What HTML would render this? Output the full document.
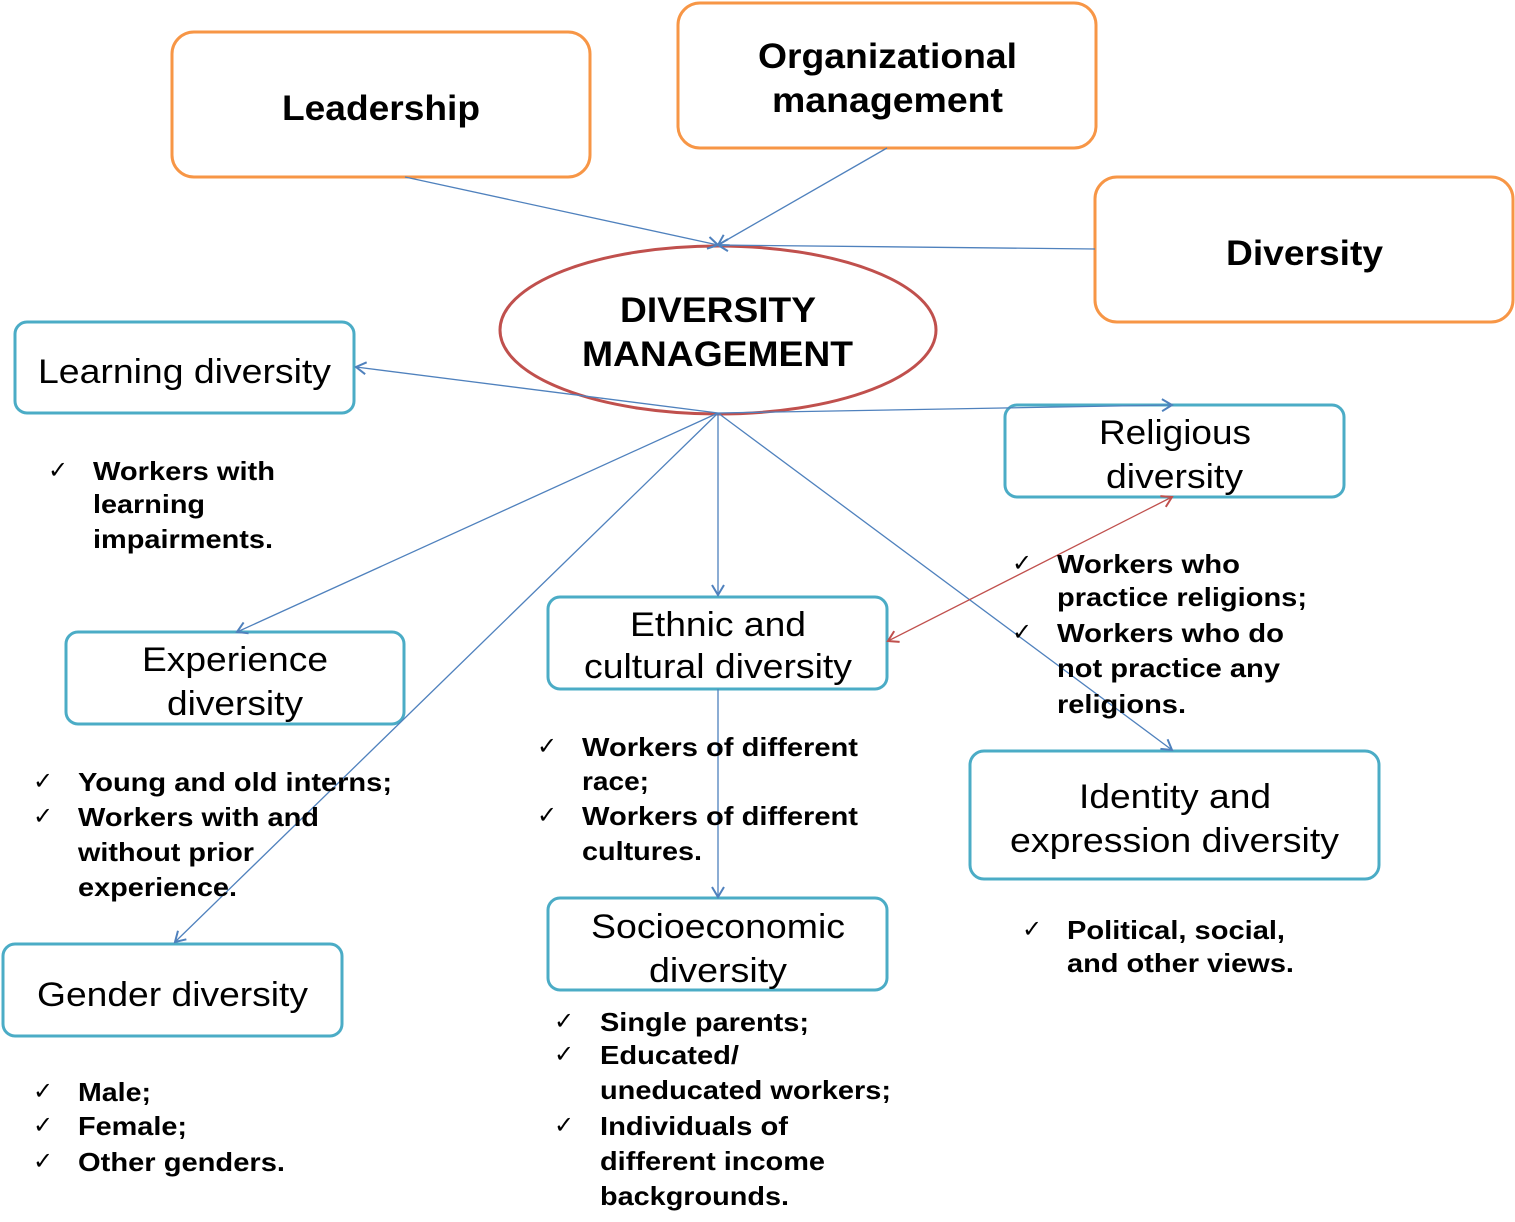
<!DOCTYPE html>
<html><head><meta charset="utf-8"><style>
html,body{margin:0;padding:0;background:#fff;}
svg{display:block;}
text{font-family:"Liberation Sans",Arial,sans-serif;fill:#000;}
.h{font-weight:bold;font-size:35px;}
.n{font-size:34px;}
.b{font-weight:bold;font-size:26px;}
.c{font-size:24px;}
</style></head><body>
<svg width="1515" height="1222" viewBox="0 0 1515 1222" xmlns="http://www.w3.org/2000/svg">
<defs>
<marker id="a" markerWidth="14" markerHeight="14" refX="11" refY="7" orient="auto" markerUnits="userSpaceOnUse">
<path d="M1,1 L11,7 L1,13" fill="none" stroke="#4F81BD" stroke-width="2"/></marker>
<marker id="r" markerWidth="14" markerHeight="14" refX="11" refY="7" orient="auto-start-reverse" markerUnits="userSpaceOnUse">
<path d="M1,1 L11,7 L1,13" fill="none" stroke="#C0504D" stroke-width="2"/></marker>
</defs>
<g fill="none" stroke="#F79646" stroke-width="3">
<rect x="172" y="32" width="418" height="145" rx="22"/>
<rect x="678" y="3" width="418" height="145" rx="22"/>
<rect x="1095" y="177" width="418" height="145" rx="22"/>
</g>
<g fill="none" stroke="#4BACC6" stroke-width="3">
<rect x="15" y="322" width="339" height="91" rx="12"/>
<rect x="1005" y="405" width="339" height="92" rx="12"/>
<rect x="66" y="632" width="338" height="92" rx="12"/>
<rect x="548" y="597" width="339" height="92" rx="12"/>
<rect x="970" y="751" width="409" height="128" rx="14"/>
<rect x="548" y="898" width="339" height="92" rx="12"/>
<rect x="3" y="944" width="339" height="92" rx="12"/>
</g>
<ellipse cx="718" cy="330" rx="218" ry="84" fill="none" stroke="#C0504D" stroke-width="3"/>
<g stroke="#4F81BD" stroke-width="1.3" fill="none">
<line x1="405" y1="177" x2="718" y2="245" marker-end="url(#a)"/>
<line x1="887" y1="148" x2="718" y2="245" marker-end="url(#a)"/>
<line x1="1095" y1="249" x2="718" y2="245" marker-end="url(#a)"/>
<line x1="718" y1="413" x2="356" y2="367" marker-end="url(#a)"/>
<line x1="718" y1="413" x2="1172" y2="405" marker-end="url(#a)"/>
<line x1="718" y1="413" x2="237" y2="632" marker-end="url(#a)"/>
<line x1="718" y1="413" x2="718" y2="595" marker-end="url(#a)"/>
<line x1="718" y1="413" x2="175" y2="942" marker-end="url(#a)"/>
<line x1="718" y1="413" x2="1172" y2="750" marker-end="url(#a)"/>
<line x1="718" y1="689" x2="718" y2="897" marker-end="url(#a)"/>
</g>
<line x1="1172" y1="497" x2="888" y2="641" stroke="#C0504D" stroke-width="1.3" marker-start="url(#r)" marker-end="url(#r)"/>
<g>
<text class="h" x="282" y="120" textLength="198" lengthAdjust="spacingAndGlyphs">Leadership</text>
<text class="h" x="758" y="68" textLength="259" lengthAdjust="spacingAndGlyphs">Organizational</text>
<text class="h" x="772" y="112" textLength="231" lengthAdjust="spacingAndGlyphs">management</text>
<text class="h" x="1226" y="265" textLength="157" lengthAdjust="spacingAndGlyphs">Diversity</text>
<text class="h" x="620" y="322" textLength="196" lengthAdjust="spacingAndGlyphs">DIVERSITY</text>
<text class="h" x="582" y="366" textLength="271" lengthAdjust="spacingAndGlyphs">MANAGEMENT</text>
<text class="n" x="38" y="383" textLength="293" lengthAdjust="spacingAndGlyphs">Learning diversity</text>
<text class="n" x="1099" y="444" textLength="152" lengthAdjust="spacingAndGlyphs">Religious</text>
<text class="n" x="1106" y="488" textLength="137" lengthAdjust="spacingAndGlyphs">diversity</text>
<text class="n" x="142" y="671" textLength="186" lengthAdjust="spacingAndGlyphs">Experience</text>
<text class="n" x="167" y="715" textLength="136" lengthAdjust="spacingAndGlyphs">diversity</text>
<text class="n" x="630" y="636" textLength="176" lengthAdjust="spacingAndGlyphs">Ethnic and</text>
<text class="n" x="584" y="678" textLength="268" lengthAdjust="spacingAndGlyphs">cultural diversity</text>
<text class="n" x="1079" y="808" textLength="192" lengthAdjust="spacingAndGlyphs">Identity and</text>
<text class="n" x="1010" y="852" textLength="329" lengthAdjust="spacingAndGlyphs">expression diversity</text>
<text class="n" x="591" y="938" textLength="254" lengthAdjust="spacingAndGlyphs">Socioeconomic</text>
<text class="n" x="649" y="982" textLength="138" lengthAdjust="spacingAndGlyphs">diversity</text>
<text class="n" x="37" y="1006" textLength="271" lengthAdjust="spacingAndGlyphs">Gender diversity</text>
</g>
<g>
<text class="c" x="48" y="478">✓</text>
<text class="c" x="1012" y="571">✓</text>
<text class="c" x="1012" y="640">✓</text>
<text class="c" x="33" y="789">✓</text>
<text class="c" x="33" y="824">✓</text>
<text class="c" x="537" y="754">✓</text>
<text class="c" x="537" y="823">✓</text>
<text class="c" x="1022" y="937">✓</text>
<text class="c" x="554" y="1029">✓</text>
<text class="c" x="554" y="1062">✓</text>
<text class="c" x="554" y="1133">✓</text>
<text class="c" x="33" y="1099">✓</text>
<text class="c" x="33" y="1133">✓</text>
<text class="c" x="33" y="1169">✓</text>
</g>
<g>
<text class="b" x="93" y="480" textLength="182" lengthAdjust="spacingAndGlyphs">Workers with</text>
<text class="b" x="93" y="513" textLength="112" lengthAdjust="spacingAndGlyphs">learning</text>
<text class="b" x="93" y="548" textLength="180" lengthAdjust="spacingAndGlyphs">impairments.</text>
<text class="b" x="1057" y="573" textLength="183" lengthAdjust="spacingAndGlyphs">Workers who</text>
<text class="b" x="1057" y="606" textLength="250" lengthAdjust="spacingAndGlyphs">practice religions;</text>
<text class="b" x="1057" y="642" textLength="227" lengthAdjust="spacingAndGlyphs">Workers who do</text>
<text class="b" x="1057" y="677" textLength="223" lengthAdjust="spacingAndGlyphs">not practice any</text>
<text class="b" x="1057" y="713" textLength="129" lengthAdjust="spacingAndGlyphs">religions.</text>
<text class="b" x="78" y="791" textLength="314" lengthAdjust="spacingAndGlyphs">Young and old interns;</text>
<text class="b" x="78" y="826" textLength="241" lengthAdjust="spacingAndGlyphs">Workers with and</text>
<text class="b" x="78" y="861" textLength="176" lengthAdjust="spacingAndGlyphs">without prior</text>
<text class="b" x="78" y="896" textLength="159" lengthAdjust="spacingAndGlyphs">experience.</text>
<text class="b" x="582" y="756" textLength="276" lengthAdjust="spacingAndGlyphs">Workers of different</text>
<text class="b" x="582" y="790" textLength="67" lengthAdjust="spacingAndGlyphs">race;</text>
<text class="b" x="582" y="825" textLength="276" lengthAdjust="spacingAndGlyphs">Workers of different</text>
<text class="b" x="582" y="860" textLength="120" lengthAdjust="spacingAndGlyphs">cultures.</text>
<text class="b" x="1067" y="939" textLength="218" lengthAdjust="spacingAndGlyphs">Political, social,</text>
<text class="b" x="1067" y="972" textLength="227" lengthAdjust="spacingAndGlyphs">and other views.</text>
<text class="b" x="600" y="1031" textLength="209" lengthAdjust="spacingAndGlyphs">Single parents;</text>
<text class="b" x="600" y="1064" textLength="139" lengthAdjust="spacingAndGlyphs">Educated/</text>
<text class="b" x="600" y="1099" textLength="291" lengthAdjust="spacingAndGlyphs">uneducated workers;</text>
<text class="b" x="600" y="1135" textLength="188" lengthAdjust="spacingAndGlyphs">Individuals of</text>
<text class="b" x="600" y="1170" textLength="225" lengthAdjust="spacingAndGlyphs">different income</text>
<text class="b" x="600" y="1205" textLength="189" lengthAdjust="spacingAndGlyphs">backgrounds.</text>
<text class="b" x="78" y="1101" textLength="73" lengthAdjust="spacingAndGlyphs">Male;</text>
<text class="b" x="78" y="1135" textLength="109" lengthAdjust="spacingAndGlyphs">Female;</text>
<text class="b" x="78" y="1171" textLength="207" lengthAdjust="spacingAndGlyphs">Other genders.</text>
</g>
</svg>
</body></html>
